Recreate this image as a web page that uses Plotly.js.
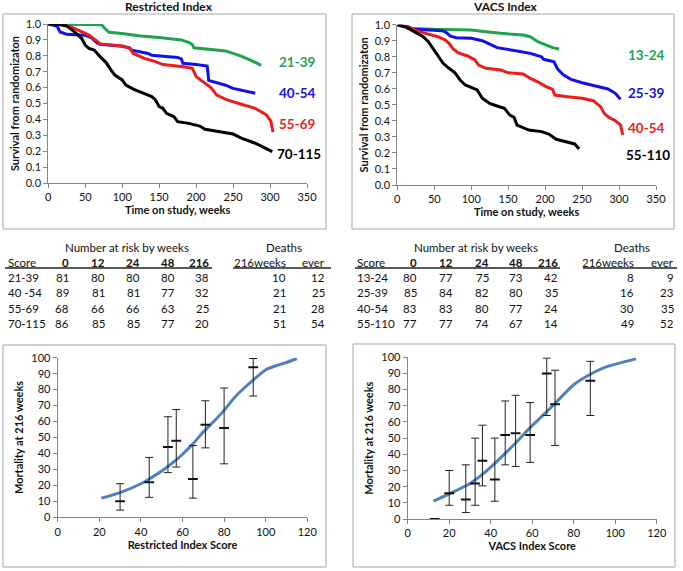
<!DOCTYPE html>
<html>
<head>
<meta charset="utf-8">
<script src="https://cdn.plot.ly/plotly-3.0.1.min.js"></script>
<style>html,body{margin:0;padding:0;background:#fff;}#chart{width:683px;height:571px;}</style>
</head>
<body>
<div id="chart"></div>
<script>
// ---------------- DATA ----------------
// Restricted Index survival curves (weeks, survival)
const riWeeksA = [0, 72, 76, 82, 100, 125, 150, 180, 190, 195, 197, 220, 240, 250, 260, 275, 288];
const riSurvA  = [1.0, 0.995, 0.975, 0.948, 0.94, 0.925, 0.915, 0.9, 0.885, 0.87, 0.85, 0.84, 0.83, 0.815, 0.8, 0.77, 0.74];
const riWeeksB = [0, 12, 16, 25, 50, 58, 66, 70, 100, 110, 113, 120, 135, 140, 175, 180, 182, 200, 215, 217, 225, 240, 250, 260, 280];
const riSurvB  = [1.0, 0.985, 0.95, 0.935, 0.93, 0.915, 0.88, 0.872, 0.86, 0.85, 0.835, 0.83, 0.815, 0.803, 0.79, 0.78, 0.753, 0.745, 0.736, 0.645, 0.635, 0.615, 0.595, 0.585, 0.564];
const riWeeksC = [0, 20, 30, 45, 55, 65, 70, 100, 110, 115, 130, 145, 155, 180, 195, 200, 210, 220, 228, 240, 260, 280, 295, 301, 304];
const riSurvC  = [1.0, 0.995, 0.983, 0.952, 0.93, 0.895, 0.875, 0.862, 0.847, 0.815, 0.784, 0.763, 0.745, 0.732, 0.721, 0.669, 0.637, 0.6, 0.553, 0.526, 0.497, 0.47, 0.428, 0.39, 0.32];
const riWeeksD = [0, 15, 25, 35, 45, 50, 55, 62, 70, 78, 85, 90, 100, 105, 115, 130, 140, 145, 150, 155, 160, 170, 175, 190, 205, 212, 230, 250, 262, 280, 303];
const riSurvD  = [1.0, 0.997, 0.987, 0.952, 0.91, 0.868, 0.847, 0.836, 0.795, 0.759, 0.71, 0.679, 0.648, 0.616, 0.591, 0.564, 0.543, 0.522, 0.48, 0.47, 0.438, 0.417, 0.386, 0.375, 0.358, 0.338, 0.323, 0.308, 0.281, 0.25, 0.197];
const riGroups = ['21-39', '40-54', '55-69', '70-115'];

// VACS Index survival curves
const vaWeeksA = [0, 20, 50, 100, 120, 140, 170, 180, 190, 200, 210, 219];
const vaSurvA  = [1.0, 0.977, 0.971, 0.967, 0.956, 0.946, 0.936, 0.925, 0.894, 0.873, 0.857, 0.848];
const vaWeeksB = [0, 20, 60, 65, 72, 80, 100, 115, 125, 135, 160, 180, 195, 198, 212, 217, 225, 235, 250, 270, 285, 295, 302];
const vaSurvB  = [1.0, 0.973, 0.963, 0.956, 0.929, 0.919, 0.915, 0.9, 0.879, 0.857, 0.838, 0.821, 0.8, 0.784, 0.769, 0.723, 0.686, 0.659, 0.638, 0.617, 0.599, 0.572, 0.534];
const vaWeeksC = [0, 15, 25, 40, 55, 65, 70, 75, 82, 95, 105, 110, 120, 140, 150, 170, 180, 190, 200, 210, 213, 230, 250, 265, 275, 280, 285, 295, 302, 305];
const vaSurvC  = [1.0, 0.988, 0.963, 0.946, 0.925, 0.904, 0.884, 0.852, 0.825, 0.805, 0.78, 0.748, 0.728, 0.717, 0.7, 0.692, 0.665, 0.644, 0.617, 0.596, 0.561, 0.551, 0.541, 0.526, 0.489, 0.447, 0.426, 0.401, 0.374, 0.312];
const vaWeeksD = [0, 10, 15, 25, 35, 42, 50, 55, 62, 70, 78, 85, 92, 100, 108, 115, 125, 135, 145, 152, 158, 162, 170, 178, 195, 205, 215, 230, 240, 246];
const vaSurvD  = [1.0, 0.99, 0.977, 0.95, 0.925, 0.894, 0.842, 0.811, 0.759, 0.728, 0.7, 0.655, 0.624, 0.609, 0.593, 0.541, 0.509, 0.493, 0.478, 0.437, 0.422, 0.374, 0.36, 0.343, 0.333, 0.318, 0.285, 0.27, 0.256, 0.225];
const vaGroups = ['13-24', '25-39', '40-54', '55-110'];

// Restricted Index: mortality at 216 weeks
const riFitX = [21, 30, 40, 44, 50, 57, 60, 65, 70, 75, 80, 85, 90, 94, 100, 105, 110, 115];
const riFitY = [12, 15.5, 21, 24, 29, 36, 39.5, 46, 53.5, 60, 67, 75, 81.5, 86, 92.5, 95, 97, 99.5];
const riObsX = [30, 44, 53, 57, 65, 71, 80, 94];
const riObsY = [10, 22, 44, 48, 24, 58, 56, 94];
const riObsLo = [4.5, 12.5, 28, 31.5, 12, 43.5, 33.5, 76];
const riObsHi = [21, 37.5, 63, 67.5, 45, 73, 81, 99.5];

// VACS Index: mortality at 216 weeks
const vaFitX = [12.5, 20, 30, 36, 42, 47, 52, 59, 67, 71, 80, 88, 95, 100, 110];
const vaFitY = [11, 15.5, 22, 27.6, 34.4, 40.6, 47, 56.5, 66.4, 71.5, 83, 89.5, 93.8, 95.7, 99];
const vaObsX = [13, 20, 28, 32.5, 36, 42, 47, 52, 59, 67, 71, 88];
const vaObsY = [0, 16, 12, 22, 36, 24.5, 52, 53, 52, 90, 71, 85.5];
const vaObsLo = [0, 8.5, 4, 8.5, 20.5, 11, 33.5, 32.5, 35, 64, 45.5, 64];
const vaObsHi = [0, 30, 33.5, 50, 58, 50, 73, 76.5, 72, 99.5, 92, 97.5];

// Number-at-risk tables
const weekHeaders = ['0', '12', '24', '48', '216'];
const riTableScores = ['21-39', '40 -54', '55-69', '70-115'];
const riRisk = [[81, 80, 80, 80, 38], [89, 81, 81, 77, 32], [68, 66, 66, 63, 25], [86, 85, 85, 77, 20]];
const riDeaths216 = [10, 21, 21, 51];
const riDeathsEver = [12, 25, 28, 54];
const vaTableScores = ['13-24', '25-39', '40-54', '55-110'];
const vaRisk = [[80, 77, 75, 73, 42], [85, 84, 82, 80, 35], [83, 83, 80, 77, 24], [77, 77, 74, 67, 14]];
const vaDeaths216 = [8, 16, 30, 49];
const vaDeathsEver = [9, 23, 35, 52];

// ---------------- STYLE / LAYOUT ----------------
const W = 683, H = 571;
const px = x => x / W;
const py = y => 1 - y / H;
const FONT = 'Lato, "Open Sans", sans-serif';
const colors = ['#1fa34e', '#1010ee', '#ee1b1b', '#000000'];
const axisCol = '#868686';

function axisBase(extra) {
  return Object.assign({
    showline: true, linecolor: axisCol, linewidth: 1,
    ticks: 'outside', ticklen: 4, tickcolor: axisCol, tickwidth: 1,
    showgrid: false, zeroline: false, automargin: false,
    tickfont: {family: FONT, size: 11, color: '#111'},
    fixedrange: true
  }, extra);
}
function titleObj(t, standoff) {
  return {text: t, standoff: standoff, font: {family: FONT, size: 11, color: '#111', weight: 'bold'}};
}

const traces = [];
const riW = [riWeeksA, riWeeksB, riWeeksC, riWeeksD], riS = [riSurvA, riSurvB, riSurvC, riSurvD];
const vaW = [vaWeeksA, vaWeeksB, vaWeeksC, vaWeeksD], vaS = [vaSurvA, vaSurvB, vaSurvC, vaSurvD];
for (let i = 0; i < 4; i++) {
  traces.push({x: riW[i], y: riS[i], type: 'scatter', mode: 'lines', name: 'RI ' + riGroups[i],
    line: {color: colors[i], width: 3}, xaxis: 'x', yaxis: 'y', showlegend: false, hoverinfo: 'skip'});
}
for (let i = 0; i < 4; i++) {
  traces.push({x: vaW[i], y: vaS[i], type: 'scatter', mode: 'lines', name: 'VACS ' + vaGroups[i],
    line: {color: colors[i], width: 3}, xaxis: 'x2', yaxis: 'y2', showlegend: false, hoverinfo: 'skip'});
}
// mortality charts
const fitLine = {color: '#4f81bd', width: 3, shape: 'spline', smoothing: 0.6};
traces.push({x: riFitX, y: riFitY, type: 'scatter', mode: 'lines', line: fitLine, xaxis: 'x3', yaxis: 'y3', showlegend: false, hoverinfo: 'skip'});
traces.push({x: vaFitX, y: vaFitY, type: 'scatter', mode: 'lines', line: fitLine, xaxis: 'x4', yaxis: 'y4', showlegend: false, hoverinfo: 'skip'});
function obsTrace(xs, ys, lo, hi, xa, ya) {
  return {x: xs, y: ys, type: 'scatter', mode: 'markers', xaxis: xa, yaxis: ya, showlegend: false, hoverinfo: 'skip',
    marker: {symbol: 'line-ew', size: 7, line: {width: 2, color: '#111'}, color: '#111'},
    error_y: {type: 'data', symmetric: false,
      array: hi.map((h, k) => h - ys[k]), arrayminus: lo.map((l, k) => ys[k] - l),
      color: '#222', thickness: 1, width: 4}};
}
traces.push(obsTrace(riObsX, riObsY, riObsLo, riObsHi, 'x3', 'y3'));
traces.push(obsTrace(vaObsX, vaObsY, vaObsLo, vaObsHi, 'x4', 'y4'));

const survX = {range: [0, 350], tickvals: [0, 50, 100, 150, 200, 250, 300, 350]};
const survY = {range: [0, 1], tickvals: [0, 0.1, 0.2, 0.3, 0.4, 0.5, 0.6, 0.7, 0.8, 0.9, 1.0], tickformat: '.1f'};
const morX = {range: [0, 120], tickvals: [0, 20, 40, 60, 80, 100, 120]};
const morY = {range: [0, 100], tickvals: [0, 10, 20, 30, 40, 50, 60, 70, 80, 90, 100]};

const annotations = [];
function ann(text, x, y, opts) {
  annotations.push(Object.assign({text: text, x: px(x), y: py(y), xref: 'paper', yref: 'paper',
    showarrow: false, xanchor: 'center', yanchor: 'middle',
    font: {family: FONT, size: 11.5, color: '#111'}}, opts || {}));
}
// panel titles
ann('Restricted Index', 169, 7, {font: {family: FONT, size: 12, color: '#111', weight: 'bold'}});
ann('VACS Index', 505, 7, {font: {family: FONT, size: 12, color: '#111', weight: 'bold'}});
// curve group labels
const riLabPos = [[297, 62], [297, 93], [297, 124], [299, 154]];
const vaLabPos = [[646, 55], [646, 93], [646, 128], [648, 155]];
for (let i = 0; i < 4; i++) {
  ann(riGroups[i], riLabPos[i][0], riLabPos[i][1], {font: {family: FONT, size: 13.5, color: colors[i], weight: 'bold'}});
  ann(vaGroups[i], vaLabPos[i][0], vaLabPos[i][1], {font: {family: FONT, size: 13.5, color: colors[i], weight: 'bold'}});
}
// tables
function table(scores, risk, d216, dever, left, colR, dCols, riskCenter, deathCenter) {
  const rowY = [277, 292, 308, 323];
  ann('Number at risk by weeks', riskCenter, 248);
  ann('Deaths', deathCenter, 248);
  ann('Score', left, 262, {xanchor: 'left'});
  for (let c = 0; c < weekHeaders.length; c++) {
    ann(weekHeaders[c], colR[c], 262, {xanchor: 'right', font: {family: FONT, size: 11.5, color: '#111', weight: 'bold'}});
  }
  ann('216weeks', dCols[0], 262, {xanchor: 'right'});
  ann('ever', dCols[1], 262, {xanchor: 'right'});
  for (let r = 0; r < scores.length; r++) {
    ann(scores[r], left, rowY[r], {xanchor: 'left'});
    for (let c = 0; c < risk[r].length; c++) ann(String(risk[r][c]), colR[c], rowY[r], {xanchor: 'right'});
    ann(String(d216[r]), dCols[0], rowY[r], {xanchor: 'right'});
    ann(String(dever[r]), dCols[1], rowY[r], {xanchor: 'right'});
  }
}
table(riTableScores, riRisk, riDeaths216, riDeathsEver, 6, [71, 107, 142, 177, 211], [288, 327], 127, 284);
table(vaTableScores, vaRisk, vaDeaths216, vaDeathsEver, 355, [419, 455, 491, 525, 560], [636, 676], 476, 632);

function rect(x0, y0, x1, y1) {
  return {type: 'rect', xref: 'paper', yref: 'paper', x0: px(x0), x1: px(x1), y0: py(y0), y1: py(y1),
    line: {color: '#a6a6a6', width: 1}, fillcolor: 'rgba(0,0,0,0)', layer: 'below'};
}
function hline(x0, x1, y) {
  return {type: 'line', xref: 'paper', yref: 'paper', x0: px(x0), x1: px(x1), y0: py(y), y1: py(y),
    line: {color: '#222', width: 1.3}};
}
const shapes = [
  rect(3, 14, 326, 229), rect(352, 14, 674, 229), rect(3, 345, 326, 567), rect(353, 344, 675, 567),
  hline(5, 212, 268), hline(233, 331, 268), hline(355, 560, 268), hline(583, 677, 268)
];

const layout = {
  width: W, height: H, margin: {l: 0, r: 0, t: 0, b: 0, pad: 0},
  paper_bgcolor: '#fff', plot_bgcolor: 'rgba(0,0,0,0)', showlegend: false,
  font: {family: FONT, color: '#111'},
  xaxis: axisBase(Object.assign({domain: [px(48.3), px(307)], anchor: 'y', title: titleObj('Time on study, weeks', 3)}, survX)),
  yaxis: axisBase(Object.assign({domain: [py(183), py(24)], anchor: 'x', title: titleObj('Survival from randomizaton', 3)}, survY)),
  xaxis2: axisBase(Object.assign({domain: [px(397.3), px(656)], anchor: 'y2', title: titleObj('Time on study, weeks', 3)}, survX)),
  yaxis2: axisBase(Object.assign({domain: [py(185), py(24.7)], anchor: 'x2', title: titleObj('Survival from randomizaton', 3)}, survY)),
  xaxis3: axisBase(Object.assign({domain: [px(57.7), px(307.3)], anchor: 'y3', title: titleObj('Restricted Index Score', 4)}, morX)),
  yaxis3: axisBase(Object.assign({domain: [py(517.3), py(357.7)], anchor: 'x3', title: titleObj('Mortality at 216 weeks', 5)}, morY)),
  xaxis4: axisBase(Object.assign({domain: [px(407.7), px(656.7)], anchor: 'y4', title: titleObj('VACS Index Score', 4)}, morX)),
  yaxis4: axisBase(Object.assign({domain: [py(519), py(357.3)], anchor: 'x4', title: titleObj('Mortality at 216 weeks', 5)}, morY)),
  annotations: annotations,
  shapes: shapes
};

Plotly.newPlot('chart', traces, layout, {staticPlot: true, displayModeBar: false});
</script>
</body>
</html>
